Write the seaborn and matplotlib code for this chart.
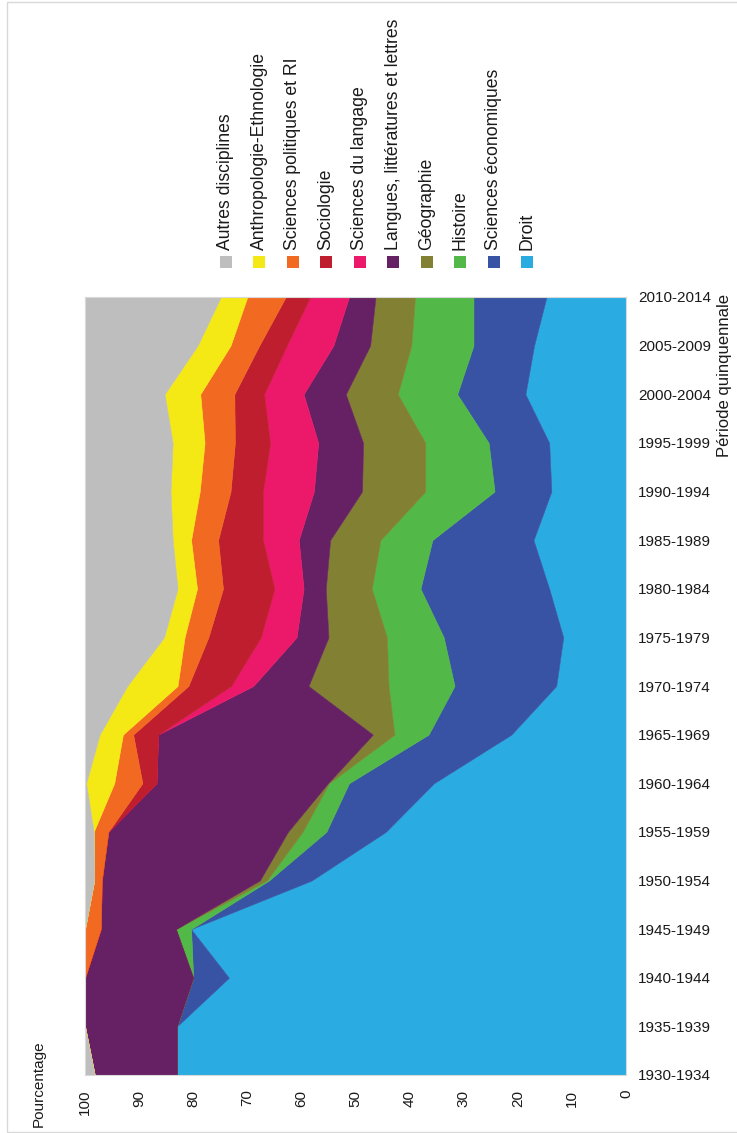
import numpy as np
import pandas as pd
import matplotlib
matplotlib.use("Agg")
import matplotlib.pyplot as plt
import seaborn as sns
from matplotlib.patches import Rectangle

# ---------------- data ----------------
periods = ["1930-1934", "1935-1939", "1940-1944", "1945-1949", "1950-1954",
           "1955-1959", "1960-1964", "1965-1969", "1970-1974", "1975-1979",
           "1980-1984", "1985-1989", "1990-1994", "1995-1999", "2000-2004",
           "2005-2009", "2010-2014"]

droit    = [83.0, 83.0, 73.4, 80.4, 58.1, 44.4, 35.5, 21.2, 12.9, 11.6, 14.2, 17.1, 13.8, 14.2, 18.6, 17.0, 14.7]
eco      = [0.0, 0.0, 6.6, 0.0, 7.9, 11.0, 15.7, 15.3, 18.8, 22.1, 23.8, 18.7, 10.5, 11.2, 12.6, 11.2, 13.5]
histoire = [0.0, 0.0, 0.0, 2.8, 0.4, 4.4, 3.7, 6.3, 12.2, 10.5, 9.0, 9.6, 12.8, 11.7, 11.0, 11.5, 10.8]
geo      = [0.0, 0.0, 0.0, 0.0, 1.3, 2.7, 0.2, 4.0, 14.8, 10.8, 8.5, 9.3, 11.7, 11.5, 9.6, 7.6, 7.3]
langues  = [15.2, 17.0, 20.0, 13.9, 29.2, 33.2, 31.7, 39.7, 10.2, 5.9, 4.1, 5.8, 8.9, 8.3, 7.8, 6.8, 4.9]
langage  = [0.0, 0.0, 0.0, 0.0, 0.0, 0.0, 0.0, 0.0, 4.1, 6.6, 5.4, 6.6, 9.4, 8.9, 7.3, 8.6, 7.2]
socio    = [0.0, 0.0, 0.0, 0.0, 0.0, 0.0, 2.6, 4.6, 7.9, 9.7, 9.5, 8.3, 6.0, 6.5, 5.5, 5.1, 4.5]
scipo    = [0.0, 0.0, 0.0, 2.9, 1.4, 2.7, 5.2, 1.9, 2.0, 4.4, 4.8, 5.0, 5.7, 5.6, 6.3, 5.3, 7.1]
anthro   = [0.0, 0.0, 0.0, 0.0, 0.0, 0.0, 5.2, 4.3, 9.3, 3.8, 3.6, 3.4, 5.4, 5.9, 6.6, 6.1, 4.9]
autres   = [1.8, 0.0, 0.0, 0.0, 1.7, 1.6, 0.2, 2.7, 7.8, 14.6, 17.1, 16.2, 15.8, 16.2, 14.7, 20.8, 25.1]

series_names = ["Droit", "Sciences économiques", "Histoire", "Géographie",
                "Langues, littératures et lettres", "Sciences du langage",
                "Sociologie", "Sciences politiques et RI",
                "Anthropologie-Ethnologie", "Autres disciplines"]
series_values = [droit, eco, histoire, geo, langues, langage, socio, scipo, anthro, autres]
colors = ["#2aace2", "#3953a4", "#52b848", "#818033", "#652163",
          "#ec196b", "#be1e2d", "#f26a22", "#f5e915", "#bebebe"]

pct_ticks = [0, 10, 20, 30, 40, 50, 60, 70, 80, 90, 100]

# ---------------- style ----------------
sns.set_theme(style="white")
plt.rcParams["font.family"] = ["Liberation Sans", "DejaVu Sans"]
TXT = "#1a1a1a"

W, H = 737, 1133
fig = plt.figure(figsize=(W / 100, H / 100), dpi=100)
fig.patch.set_facecolor("white")

# light frame around the figure
fig.patches.append(Rectangle((6.5 / W, 1.5 / H), 1.0, (1131.5 - 1.5) / H,
                             transform=fig.transFigure, fill=False,
                             edgecolor="#d9d9d9", linewidth=1.0))

ax = fig.add_axes([85 / W, 1 - 1075 / H, (626 - 85) / W, (1075 - 297) / H])

df = pd.DataFrame(dict(zip(series_names, series_values)), index=periods)
cum = df.cumsum(axis=1)
ypos = np.arange(len(periods))
lower = np.zeros(len(periods))
for name, col in zip(series_names, colors):
    upper = cum[name].to_numpy()
    ax.fill_betweenx(ypos, lower, upper, facecolor=col, edgecolor=col,
                     linewidth=0.4)
    lower = upper

ax.set_xlim(100, 0)
ax.set_ylim(0, len(periods) - 1)

ax.set_xticks(pct_ticks)
ax.set_xticklabels([str(v) for v in pct_ticks], rotation=90, color=TXT)
ax.tick_params(axis="x", length=0, pad=10.5, labelsize=11)

ax.yaxis.tick_right()
ax.set_yticks(ypos)
ax.set_yticklabels(periods, color=TXT)
ax.tick_params(axis="y", length=0, pad=8.6, labelsize=11)

for s in ax.spines.values():
    s.set_color("#d9d9d9")
    s.set_linewidth(0.8)

# axis titles
ax.yaxis.set_label_position("right")
ax.set_ylabel("Période quinquennale", fontsize=12, color=TXT)
ylab = ax.yaxis.label
ylab.set_rotation(90)
ylab.set_rotation_mode("default")
ax.yaxis.set_label_coords((724 - 85) / 541, (1075 - 294) / 778)
ylab.set_horizontalalignment("center")
ylab.set_verticalalignment("top")

ax.set_xlabel("Pourcentage", fontsize=11, color=TXT)
xlab = ax.xaxis.label
xlab.set_rotation(90)
xlab.set_rotation_mode("default")
ax.xaxis.set_label_coords((38.5 - 85) / 541, (1075 - 1127) / 778)
xlab.set_horizontalalignment("center")
xlab.set_verticalalignment("bottom")

# legend (rotated, drawn in figure coordinates)
legend_names = series_names[::-1]
legend_colors = colors[::-1]
x0, dx = 225.6, 33.49
for i, (name, col) in enumerate(zip(legend_names, legend_colors)):
    xc = x0 + i * dx
    fig.patches.append(Rectangle(((xc - 6) / W, 1 - 268 / H), 12 / W, 12 / H,
                                 transform=fig.transFigure, facecolor=col,
                                 edgecolor="none"))
    fig.text(xc / W, 1 - 250 / H, name, rotation=90, ha="center", va="bottom",
             fontsize=12.7, color=TXT)

fig.savefig("out.png", dpi=100)
